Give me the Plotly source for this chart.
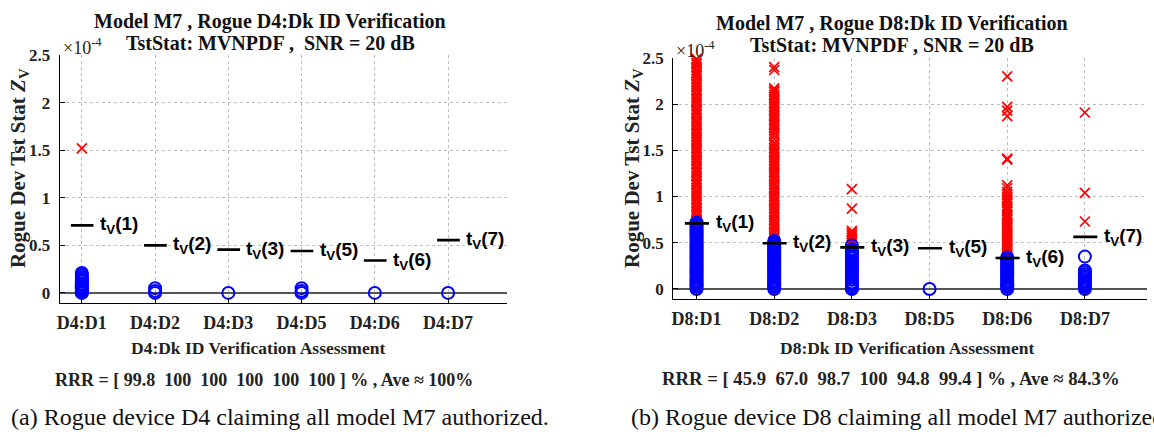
import plotly.graph_objects as go

W, H = 1154, 437

# ---------------- data ----------------
left_cats = ["D4:D1", "D4:D2", "D4:D3", "D4:D5", "D4:D6", "D4:D7"]
right_cats = ["D8:D1", "D8:D2", "D8:D3", "D8:D5", "D8:D6", "D8:D7"]
thr_labels = ["1", "2", "3", "5", "6", "7"]
thresholds_left = [0.71, 0.50, 0.455, 0.44, 0.34, 0.555]
thresholds_right = [0.71, 0.495, 0.45, 0.44, 0.335, 0.563]

# Rogue D4 (left panel)
d4_d1_red = [1.52]
d4_d1_blue = [0.0, 0.005, 0.01, 0.02, 0.03, 0.04, 0.05, 0.06, 0.07, 0.09, 0.10,
              0.12, 0.13, 0.15, 0.17, 0.19, 0.21]
d4_d2_blue = [0.0, 0.02, 0.05]
d4_d3_blue = [0.0]
d4_d5_blue = [0.0, 0.02, 0.05]
d4_d6_blue = [0.0]
d4_d7_blue = [0.0]

# Rogue D8 (right panel)
d8_d1_red = [0.73, 0.75, 0.78, 0.80, 0.83, 0.85, 0.88, 0.91, 0.93, 0.96, 0.98,
             1.01, 1.04, 1.06, 1.09, 1.12, 1.14, 1.17, 1.19, 1.22, 1.25, 1.27,
             1.30, 1.32, 1.35, 1.38, 1.40, 1.43, 1.46, 1.48, 1.51, 1.53, 1.56,
             1.59, 1.61, 1.64, 1.67, 1.69, 1.72, 1.74, 1.77, 1.80, 1.82, 1.85,
             1.88, 1.90, 1.93, 1.95, 1.98, 2.01, 2.03, 2.06, 2.09, 2.11, 2.14,
             2.16, 2.19, 2.22, 2.24, 2.27, 2.30, 2.32, 2.35, 2.37, 2.40, 2.43,
             2.45, 2.48, 2.49]
d8_d1_blue = [0.0, 0.02, 0.04, 0.06, 0.08, 0.10, 0.12, 0.14, 0.16, 0.18, 0.20,
              0.22, 0.24, 0.26, 0.28, 0.30, 0.32, 0.34, 0.36, 0.38, 0.40, 0.42,
              0.44, 0.46, 0.48, 0.50, 0.52, 0.54, 0.56, 0.58, 0.60, 0.62, 0.64,
              0.66, 0.68, 0.70, 0.72]
d8_d2_red = [0.52, 0.55, 0.57, 0.60, 0.62, 0.65, 0.68, 0.70, 0.73, 0.75, 0.78,
             0.81, 0.83, 0.86, 0.88, 0.91, 0.94, 0.96, 0.99, 1.01, 1.04, 1.07,
             1.09, 1.12, 1.14, 1.17, 1.20, 1.22, 1.25, 1.27, 1.30, 1.33, 1.35,
             1.38, 1.40, 1.43, 1.46, 1.48, 1.51, 1.53, 1.56, 1.58, 1.62, 1.66,
             1.69, 1.72, 1.74, 1.77, 1.79, 1.82, 1.84, 1.87, 1.89, 1.92, 1.95,
             1.97, 2.00, 2.02, 2.05, 2.08, 2.10, 2.13, 2.15, 2.17, 2.37, 2.40]
d8_d2_blue = [0.0, 0.02, 0.04, 0.06, 0.08, 0.10, 0.12, 0.14, 0.16, 0.18, 0.20,
              0.22, 0.24, 0.26, 0.28, 0.30, 0.32, 0.34, 0.36, 0.38, 0.40, 0.42,
              0.44, 0.46, 0.48, 0.50, 0.52]
d8_d3_red = [1.08, 0.87, 0.63, 0.61, 0.59, 0.57, 0.55, 0.52, 0.50]
d8_d3_blue = [0.0, 0.01, 0.03, 0.05, 0.07, 0.10, 0.12, 0.14, 0.17, 0.19, 0.21,
              0.24, 0.26, 0.28, 0.30, 0.33, 0.35, 0.37, 0.39, 0.41, 0.43, 0.47]
d8_d5_blue = [0.0]
d8_d6_red = [2.30, 1.97, 1.93, 1.87, 1.41, 1.40, 1.12, 1.09, 1.05, 1.02, 0.99,
             0.97, 0.95, 0.93, 0.90, 0.88, 0.86, 0.84, 0.81, 0.79, 0.77, 0.75,
             0.72, 0.70, 0.68, 0.66, 0.64, 0.61, 0.59, 0.57, 0.55, 0.53, 0.51,
             0.49, 0.47, 0.45, 0.43, 0.41, 0.39, 0.37, 0.35]
d8_d6_blue = [0.0, 0.02, 0.04, 0.06, 0.08, 0.10, 0.12, 0.14, 0.16, 0.18, 0.20,
              0.22, 0.24, 0.26, 0.28, 0.30, 0.32, 0.34]
d8_d7_red = [1.91, 1.04, 0.73]
d8_d7_blue = [0.0, 0.02, 0.04, 0.06, 0.08, 0.10, 0.12, 0.14, 0.16, 0.18, 0.20, 0.35]

left_red = [d4_d1_red, [], [], [], [], []]
left_blue = [d4_d1_blue, d4_d2_blue, d4_d3_blue, d4_d5_blue, d4_d6_blue, d4_d7_blue]
right_red = [d8_d1_red, d8_d2_red, d8_d3_red, [], d8_d6_red, d8_d7_red]
right_blue = [d8_d1_blue, d8_d2_blue, d8_d3_blue, d8_d5_blue, d8_d6_blue, d8_d7_blue]

# ---------------- styling ----------------
SERIF = "Liberation Serif, Times New Roman, serif"
SANS = "Liberation Sans, Arial, sans-serif"
RED = "#ff0000"
BLUE = "#0000ff"

def px_x(p):
    return p / W

def px_y(p):
    return 1 - p / H

panels = [
    dict(xa="x", ya="y", cats=left_cats, red=left_red, blue=left_blue,
         thr=thresholds_left, x0=57, x1=505, ytop=47, ybot=300, yr=(-0.104, 2.5),
         title1="Model M7 , Rogue D4:Dk ID Verification",
         title2="TstStat: MVNPDF ,  SNR = 20 dB",
         xtitle="D4:Dk ID Verification Assessment",
         rrr="RRR = [ 99.8  100  100  100  100  100 ] % , Ave \u2248 100%",
         cx=268, xt_cx=256, rrr_cx=262, rrr_size=18,
         t1y=13, t2y=35, xt_y=346, rrr_y=379, cap_y=417,
         caption="(a) Rogue device D4 claiming all model M7 authorized.", cap_x=278),
    dict(xa="x2", ya="y2", cats=right_cats, red=right_red, blue=right_blue,
         thr=thresholds_right, x0=672, x1=1147, ytop=50, ybot=296, yr=(-0.108, 2.5),
         title1="Model M7 , Rogue D8:Dk ID Verification",
         title2="TstStat: MVNPDF , SNR = 20 dB",
         xtitle="D8:Dk ID Verification Assessment",
         rrr="RRR = [ 45.9  67.0  98.7  100  94.8  99.4 ] % , Ave \u2248 84.3%",
         cx=891, xt_cx=906, rrr_cx=890, rrr_size=18.7,
         t1y=15, t2y=37, xt_y=346, rrr_y=377, cap_y=417,
         caption="(b) Rogue device D8 claiming all model M7 authorized.", cap_x=None),
]

fig = go.Figure()
annotations = []

for i, P in enumerate(panels):
    xs_r, ys_r, xs_b, ys_b = [], [], [], []
    for k, (rv, bv) in enumerate(zip(P["red"], P["blue"])):
        xs_r += [k + 1] * len(rv)
        ys_r += rv
        xs_b += [k + 1] * len(bv)
        ys_b += bv
    fig.add_trace(go.Scatter(
        x=xs_r, y=ys_r, mode="markers", xaxis=P["xa"], yaxis=P["ya"],
        marker=dict(symbol="x-thin-open", size=10, color=RED,
                    line=dict(color=RED, width=1.7)),
        cliponaxis=False, showlegend=False, hoverinfo="skip"))
    fig.add_trace(go.Scatter(
        x=xs_b, y=ys_b, mode="markers", xaxis=P["xa"], yaxis=P["ya"],
        marker=dict(symbol="circle-open", size=12, color=BLUE,
                    line=dict(color=BLUE, width=2)),
        cliponaxis=False, showlegend=False, hoverinfo="skip"))
    tx, ty = [], []
    for k, t in enumerate(P["thr"]):
        tx += [k + 1 - 0.15, k + 1 + 0.16, None]
        ty += [t, t, None]
        annotations.append(dict(
            x=k + 1 + 0.22, y=t, xref=P["xa"], yref=P["ya"],
            text=f"t<sub>V</sub>({thr_labels[k]})", showarrow=False,
            xanchor="left", yanchor="middle",
            font=dict(family=SANS, size=19, color="black", weight="bold")))
    fig.add_trace(go.Scatter(
        x=tx, y=ty, mode="lines", xaxis=P["xa"], yaxis=P["ya"],
        line=dict(color="black", width=2.6), cliponaxis=False,
        showlegend=False, hoverinfo="skip"))

    xaxis_cfg = dict(
        domain=[px_x(P["x0"]), px_x(P["x1"])], range=[0.7, 6.8],
        tickvals=[1, 2, 3, 4, 5, 6], ticktext=P["cats"],
        showgrid=True, gridcolor="#bdbdbd", griddash="dot", gridwidth=1,
        showline=True, linecolor="black", linewidth=1.3,
        ticks="inside", ticklen=5, tickcolor="black", tickwidth=1,
        ticklabelstandoff=3,
        tickfont=dict(family=SERIF, size=18, color="#222", weight="bold"),
        zeroline=False, anchor=P["ya"], fixedrange=True)
    yaxis_cfg = dict(
        domain=[px_y(P["ybot"]), px_y(P["ytop"])], range=list(P["yr"]),
        tickvals=[0, 0.5, 1, 1.5, 2, 2.5],
        ticktext=["0", "0.5", "1", "1.5", "2", "2.5"],
        showgrid=True, gridcolor="#bdbdbd", griddash="dot", gridwidth=1,
        showline=True, linecolor="black", linewidth=1.3,
        ticks="inside", ticklen=5, tickcolor="black", tickwidth=1,
        ticklabelstandoff=5,
        tickfont=dict(family=SERIF, size=17, color="#222", weight="bold"),
        zeroline=True, zerolinecolor="#555555", zerolinewidth=1.5,
        anchor=P["xa"], fixedrange=True)
    if i == 0:
        fig.update_layout(xaxis=xaxis_cfg, yaxis=yaxis_cfg)
    else:
        fig.update_layout(xaxis2=xaxis_cfg, yaxis2=yaxis_cfg)

    # titles
    for txt, yy in ((P["title1"], P["t1y"]), (P["title2"], P["t2y"])):
        annotations.append(dict(x=px_x(P["cx"]), y=px_y(yy), xref="paper", yref="paper",
                                text=txt, showarrow=False, xanchor="center", yanchor="middle",
                                font=dict(family=SERIF, size=20, color="#111", weight="bold")))
    # exponent
    annotations.append(dict(x=px_x(P["x0"] + 1), y=px_y(P["ytop"] - 9), xref="paper", yref="paper",
                            text="\u00d710<sup>-4</sup>", showarrow=False, xanchor="left", yanchor="middle",
                            font=dict(family=SERIF, size=18, color="#222")))
    # y title
    annotations.append(dict(x=px_x(P["x0"] - 41), y=px_y((P["ytop"] + P["ybot"]) / 2 - 11),
                            xref="paper", yref="paper", textangle=-90,
                            text="Rogue Dev Tst Stat <i>Z</i><sub>V</sub>", showarrow=False,
                            xanchor="center", yanchor="middle",
                            font=dict(family=SERIF, size=21, color="#222", weight="bold")))
    # x title
    annotations.append(dict(x=px_x(P["xt_cx"]), y=px_y(P["xt_y"]), xref="paper", yref="paper",
                            text=P["xtitle"], showarrow=False, xanchor="center", yanchor="middle",
                            font=dict(family=SERIF, size=17.5, color="#222", weight="bold")))
    # RRR line
    annotations.append(dict(x=px_x(P["rrr_cx"]), y=px_y(P["rrr_y"]), xref="paper", yref="paper",
                            text=P["rrr"], showarrow=False, xanchor="center", yanchor="middle",
                            font=dict(family=SERIF, size=P["rrr_size"], color="#222", weight="bold")))
    # caption
    if P["cap_x"] is not None:
        annotations.append(dict(x=px_x(P["cap_x"]), y=px_y(P["cap_y"]), xref="paper", yref="paper",
                                text=P["caption"], showarrow=False, xanchor="center", yanchor="middle",
                                font=dict(family=SERIF, size=24, color="#111")))
    else:
        annotations.append(dict(x=px_x(628), y=px_y(P["cap_y"]), xref="paper", yref="paper",
                                text=P["caption"], showarrow=False, xanchor="left", yanchor="middle",
                                font=dict(family=SERIF, size=24, color="#111")))

fig.update_layout(
    width=W, height=H, margin=dict(l=0, r=0, t=0, b=0),
    paper_bgcolor="white", plot_bgcolor="white",
    annotations=annotations, showlegend=False)

fig.write_html("out.html", config={"displayModeBar": False})
